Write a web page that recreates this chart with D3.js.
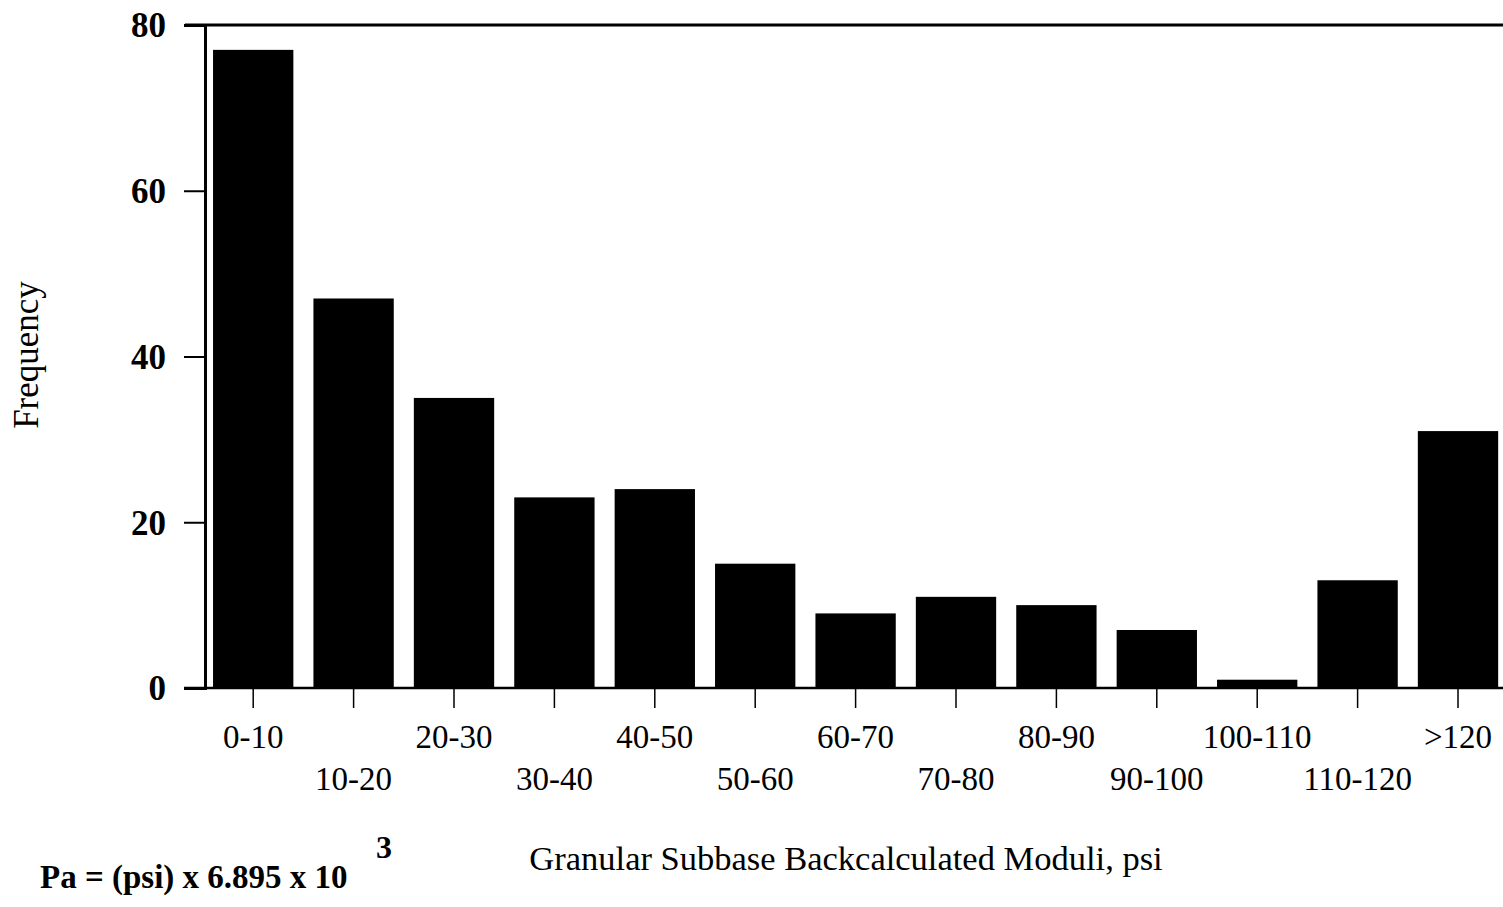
<!DOCTYPE html>
<html>
<head>
<meta charset="utf-8">
<script src="https://cdn.jsdelivr.net/npm/d3@7"></script>
<style>
  body { margin: 0; background: #fff; }
  svg text { font-family: "Liberation Serif", "Times New Roman", serif; fill: #000; }
</style>
</head>
<body>
<div id="chart"></div>
<script>
// Data
const categories = ["0-10", "10-20", "20-30", "30-40", "40-50", "50-60", "60-70",
                    "70-80", "80-90", "90-100", "100-110", "110-120", ">120"];
const frequency = [77, 47, 35, 23, 24, 15, 9, 11, 10, 7, 1, 13, 31];
const yTicks = [0, 20, 40, 60, 80];

const width = 1503, height = 907;
const plotLeft = 205, plotTop = 25, plotBottom = 688;

const svg = d3.select("#chart")
    .append("svg")
    .attr("width", width)
    .attr("height", height);

// Scales
const xScale = d3.scaleBand()
    .domain(categories)
    .range([203, 203 + 13 * 100.4])
    .paddingInner(0.2)
    .paddingOuter(0.1);

const yScale = d3.scaleLinear()
    .domain([0, 80])
    .range([plotBottom, plotTop]);

// Bars
svg.selectAll(".bar")
    .data(frequency)
    .enter()
    .append("rect")
    .attr("class", "bar")
    .attr("x", (d, i) => xScale(categories[i]))
    .attr("y", d => yScale(d))
    .attr("width", xScale.bandwidth())
    .attr("height", d => plotBottom - yScale(d))
    .attr("fill", "#000");

// Top frame line
svg.append("line")
    .attr("x1", 185).attr("x2", width)
    .attr("y1", plotTop).attr("y2", plotTop)
    .attr("stroke", "#000").attr("stroke-width", 3);

// Y axis
const yAxis = svg.append("g")
    .attr("transform", `translate(${plotLeft},0)`)
    .call(d3.axisLeft(yScale).tickValues(yTicks).tickSize(21).tickPadding(18));
yAxis.select(".domain").attr("stroke", "#000").attr("stroke-width", 3);
yAxis.selectAll(".tick line").attr("stroke", "#000").attr("stroke-width", 2);
yAxis.selectAll(".tick text")
    .attr("font-size", 35)
    .attr("font-weight", "bold")
    .attr("dy", "0.34em")
    .style("font-family", "'Liberation Serif', serif");

// Baseline
svg.append("line")
    .attr("x1", 184).attr("x2", width)
    .attr("y1", plotBottom).attr("y2", plotBottom)
    .attr("stroke", "#000").attr("stroke-width", 2.5);

// X axis ticks
const xAxis = svg.append("g")
    .attr("transform", `translate(0,${plotBottom})`)
    .call(d3.axisBottom(xScale).tickSize(20).tickFormat(""));
xAxis.select(".domain").remove();
xAxis.selectAll(".tick line").attr("stroke", "#000").attr("stroke-width", 1.5);

// X labels, staggered over two rows
svg.selectAll(".xlabel")
    .data(categories)
    .enter()
    .append("text")
    .attr("class", "xlabel")
    .attr("x", d => xScale(d) + xScale.bandwidth() / 2)
    .attr("y", (d, i) => i % 2 === 0 ? 748 : 790)
    .attr("text-anchor", "middle")
    .attr("font-size", 33)
    .text(d => d);

// Axis titles
svg.append("text")
    .attr("transform", "translate(38,355) rotate(-90)")
    .attr("text-anchor", "middle")
    .attr("font-size", 35)
    .text("Frequency");

svg.append("text")
    .attr("x", 846)
    .attr("y", 870)
    .attr("text-anchor", "middle")
    .attr("font-size", 34.5)
    .text("Granular Subbase Backcalculated Moduli, psi");

// Conversion note
svg.append("text")
    .attr("x", 40)
    .attr("y", 888)
    .attr("font-size", 33)
    .attr("font-weight", "bold")
    .text("Pa = (psi) x 6.895 x 10");

svg.append("text")
    .attr("x", 376)
    .attr("y", 858)
    .attr("font-size", 32)
    .attr("font-weight", "bold")
    .text("3");
</script>
</body>
</html>
